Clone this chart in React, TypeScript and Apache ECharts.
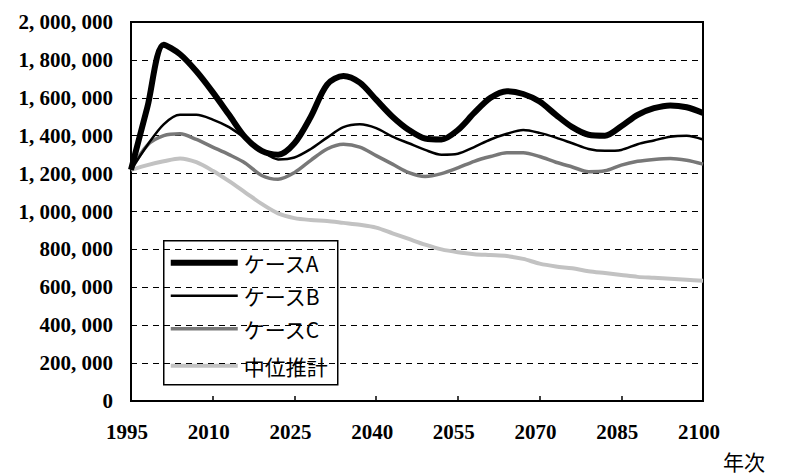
import React, { useEffect, useRef } from "react";
import * as echarts from "echarts";

const years = [1995, 1998, 2001, 2004, 2007, 2010, 2013, 2016, 2019, 2022, 2025, 2028, 2031, 2034, 2037, 2040, 2043, 2046, 2049, 2052, 2055, 2058, 2061, 2064, 2067, 2070, 2073, 2076, 2079, 2082, 2085, 2088, 2091, 2094, 2097, 2100];

const caseA = [1220000, 1550000, 1880000, 1830000, 1740000, 1630000, 1510000, 1390000, 1320000, 1300000, 1360000, 1500000, 1670000, 1715000, 1680000, 1590000, 1500000, 1430000, 1385000, 1380000, 1430000, 1520000, 1600000, 1635000, 1620000, 1580000, 1510000, 1445000, 1405000, 1400000, 1450000, 1510000, 1545000, 1560000, 1550000, 1520000];

const caseB = [1220000, 1350000, 1460000, 1510000, 1510000, 1485000, 1445000, 1385000, 1320000, 1275000, 1285000, 1330000, 1390000, 1445000, 1460000, 1440000, 1395000, 1360000, 1325000, 1300000, 1305000, 1340000, 1380000, 1410000, 1430000, 1415000, 1390000, 1360000, 1330000, 1320000, 1325000, 1355000, 1375000, 1395000, 1400000, 1380000];

const caseC = [1220000, 1350000, 1400000, 1410000, 1380000, 1340000, 1300000, 1255000, 1190000, 1170000, 1205000, 1270000, 1330000, 1355000, 1340000, 1295000, 1250000, 1205000, 1185000, 1200000, 1230000, 1265000, 1290000, 1310000, 1310000, 1290000, 1260000, 1235000, 1210000, 1215000, 1245000, 1265000, 1275000, 1280000, 1270000, 1250000];

const median = [1220000, 1245000, 1265000, 1280000, 1260000, 1215000, 1160000, 1100000, 1040000, 990000, 965000, 955000, 950000, 940000, 930000, 915000, 885000, 855000, 825000, 800000, 785000, 775000, 770000, 765000, 750000, 725000, 710000, 700000, 685000, 675000, 665000, 655000, 650000, 645000, 640000, 635000];

const seriesNames = ["ケースA", "ケースB", "ケースC", "中位推計"];
const xAxisName = "年次";

const serif = "Liberation Serif";
const jp = "Noto Sans CJK JP";

export default function App() {
  const ref = useRef<HTMLDivElement>(null);
  useEffect(() => {
    if (!ref.current) return;
    const chart = echarts.init(ref.current, undefined, { renderer: "svg" });
    const pair = (vals: number[]) => years.map((y, i) => [y, vals[i]]);
    const styles = [
      { color: "#000000", width: 6 },
      { color: "#000000", width: 2.5 },
      { color: "#787878", width: 3.5 },
      { color: "#c2c2c2", width: 4 },
    ];
    const datas = [caseA, caseB, caseC, median];
    const rowY = [22, 55, 88, 125];
    const legendChildren: any[] = [
      {
        type: "rect",
        shape: { x: 0, y: 0, width: 174, height: 144 },
        style: { fill: "#fff", stroke: "#000", lineWidth: 1.5 },
      },
    ];
    seriesNames.forEach((name, i) => {
      legendChildren.push({
        type: "line",
        shape: { x1: 7, y1: rowY[i], x2: 74, y2: rowY[i] },
        style: { stroke: styles[i].color, lineWidth: styles[i].width },
      });
      legendChildren.push({
        type: "text",
        x: 80,
        y: rowY[i],
        style: {
          text: name,
          fontFamily: jp,
          fontSize: 21,
          fill: "#000",
          verticalAlign: "middle",
          align: "left",
        },
      });
    });
    chart.setOption({
      animation: false,
      backgroundColor: "#ffffff",
      grid: {
        left: 131,
        right: 84,
        top: 22,
        bottom: 75,
        show: true,
        borderColor: "#000",
        borderWidth: 2,
        backgroundColor: "transparent",
      },
      xAxis: {
        type: "value",
        min: 1995,
        max: 2100,
        interval: 15,
        axisLine: { show: true, lineStyle: { color: "#000", width: 2 } },
        axisTick: { show: true, inside: true, length: 5, lineStyle: { color: "#000", width: 1.5 } },
        splitLine: { show: false },
        axisLabel: {
          margin: 20,
          padding: [0, 8, 0, 0],
          fontFamily: serif,
          fontWeight: "bold",
          fontSize: 21,
          color: "#000",
          formatter: (v: number) => String(v),
        },
      },
      yAxis: {
        type: "value",
        min: 0,
        max: 2000000,
        interval: 200000,
        axisLine: { show: true, lineStyle: { color: "#000", width: 2 } },
        axisTick: { show: false },
        splitLine: { show: true, lineStyle: { color: "#000", width: 1.1, type: [6, 5] } },
        axisLabel: {
          margin: 18,
          fontFamily: serif,
          fontWeight: "bold",
          fontSize: 21,
          color: "#000",
          formatter: (v: number) => v.toLocaleString("en-US").replace(/,/g, ", "),
        },
      },
      graphic: [
        {
          type: "group",
          left: 163,
          top: 240,
          z: 100,
          children: legendChildren,
        },
        {
          type: "text",
          left: 723,
          top: 450,
          z: 100,
          style: { text: xAxisName, fontFamily: jp, fontSize: 21, fill: "#000" },
        },
      ],
      series: seriesNames.map((name, i) => ({
        name,
        type: "line",
        data: pair(datas[i]),
        smooth: 0.3,
        symbol: "none",
        showSymbol: false,
        lineStyle: { color: styles[i].color, width: styles[i].width },
        itemStyle: { color: styles[i].color },
        z: 10 - i,
      })),
    });
    return () => chart.dispose();
  }, []);
  return <div ref={ref} style={{ position: "absolute", left: 0, top: 0, width: 787, height: 476 }} />;
}
